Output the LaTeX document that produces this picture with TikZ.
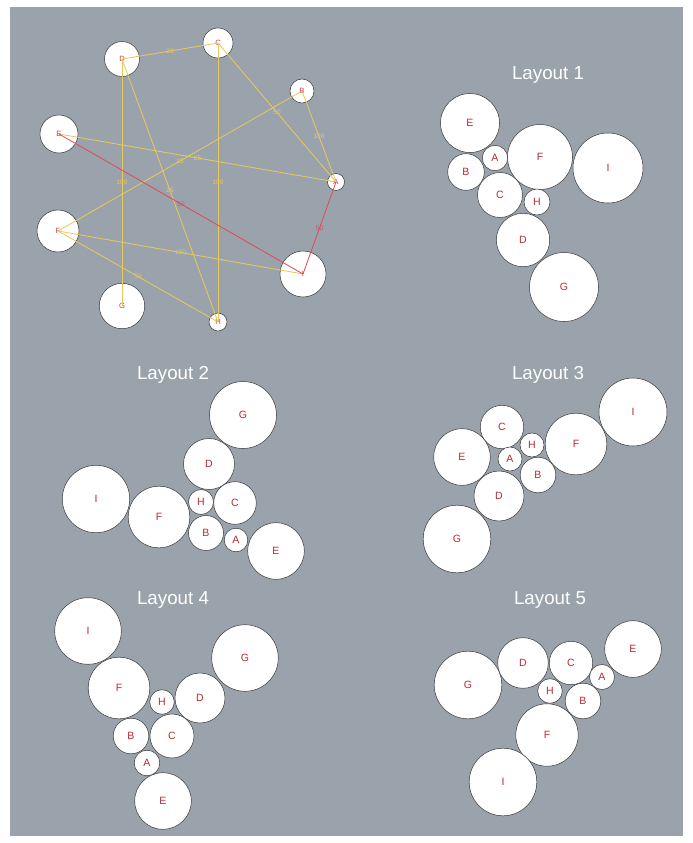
\documentclass[tikz,border=0pt]{standalone}
\usepackage{fontspec}
\setmainfont{Liberation Sans}
\usepackage{tikz}
\definecolor{PanelGray}{RGB}{154,163,171}
\definecolor{EdgeYellow}{RGB}{232,200,92}
\definecolor{EdgeRed}{RGB}{226,74,86}
\definecolor{LabelRed}{RGB}{184,42,52}
\definecolor{RimGray}{RGB}{60,60,60}

\begin{document}
\begin{tikzpicture}[x=0.3mm, y=-0.3mm,
  bub/.style={circle, draw=RimGray, line width=0.45pt, fill=white, inner sep=0pt,
    minimum size=#1*0.6mm, text=LabelRed, font=\fontsize{9}{9}\selectfont},
  gnode/.style={bub=#1, text=EdgeRed!85!black, font=\fontsize{6.5}{6.5}\selectfont},
  laytitle/.style={text=white, font=\fontsize{16}{16}\selectfont},
  yedge/.style={EdgeYellow, line width=0.7pt},
  redge/.style={EdgeRed, line width=0.7pt},
  elab/.style={inner sep=0pt, text=EdgeYellow, font=\fontsize{5.5}{5.5}\selectfont}
]
  \useasboundingbox (0,0) rectangle (693,843);
  \fill[PanelGray] (10,7) rectangle (683,836); % panel

  % Weighted graph
  \foreach \n/\x/\y/\r in {A/336/182/8.5, B/302/91/12, C/218/43/15, D/122/59/17.5,
                           E/59/134/19, F/58/231/21, G/122/306/22.7, H/218/322/9,
                           I/303/274/23} {
    \node[gnode=\r] (g\n) at (\x,\y) {\n};
  }
  \foreach \a/\b/\w in {D/C/20, C/A/50, B/A/100, D/H/25, D/G/100, C/H/100,
                        E/A/25, B/F/25, F/I/100, F/H/50} {
    \draw[yedge] (g\a.center) -- node[elab] {\w} (g\b.center);
  }
  \foreach \a/\b/\w in {E/I/50, A/I/50} {
    \draw[redge] (g\a.center) -- node[elab, text=EdgeRed] {\w} (g\b.center);
  }

  % Layout 1
  \node[laytitle] (t1) at (548,75) {Layout 1};
  \foreach \n/\x/\y/\r in {E/470/123/29.5, A/495/158/12.7, B/466/172/18.3,
                           F/540/157/32.5, I/608/168/35, C/500/195/22.5,
                           H/537/202/13, D/523/240/26.7, G/564/287/34.5} {
    \node[bub=\r] (a\n) at (\x,\y) {\n};
  }

  % Layout 2
  \node[laytitle] (t2) at (173,375) {Layout 2};
  \foreach \n/\x/\y/\r in {G/243/415/33.5, D/209/464/25.5, I/96/499/33.7,
                           F/159/517/30.8, H/201/502/12.5, C/235/503/21.3,
                           B/206/533/17.5, A/236/540/11.8, E/276/551/28.3} {
    \node[bub=\r] (b\n) at (\x,\y) {\n};
  }

  % Layout 3
  \node[laytitle] (t3) at (548,375) {Layout 3};
  \foreach \n/\x/\y/\r in {I/633/412/34, C/502/427/21.7, H/532/445/12,
                           F/576/444/30.8, E/462/457/28.3, A/510/459/12,
                           B/538/475/17.8, D/499/496/25, G/457/539/33.8} {
    \node[bub=\r] (c\n) at (\x,\y) {\n};
  }

  % Layout 4
  \node[laytitle] (t4) at (173,600) {Layout 4};
  \foreach \n/\x/\y/\r in {I/88/631/33.3, G/245/658/33.3, F/119/688/30.8,
                           H/162/702/12.3, D/200/698/25, B/131/736/17.8,
                           C/172/736/22, A/147/763/12.8, E/163/801/28.3} {
    \node[bub=\r] (d\n) at (\x,\y) {\n};
  }

  % Layout 5
  \node[laytitle] (t5) at (550,600) {Layout 5};
  \foreach \n/\x/\y/\r in {E/633/649/28.3, D/523/663/25.3, C/571/663/21.7,
                           G/468/685/33.8, A/602/677/12.5, H/550/691/12.3,
                           B/583/701/17.8, F/547/735/31.2, I/503/782/33.8} {
    \node[bub=\r] (e\n) at (\x,\y) {\n};
  }
\end{tikzpicture}
\end{document}
